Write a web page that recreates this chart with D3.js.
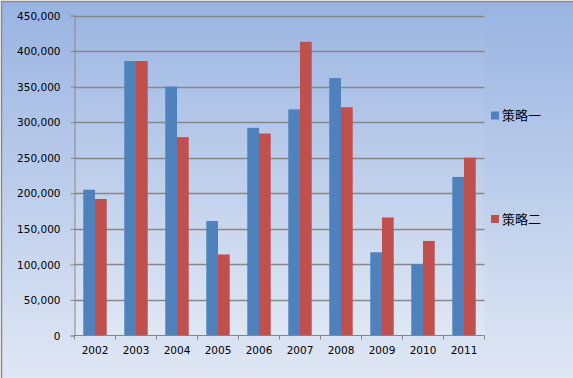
<!DOCTYPE html>
<html>
<head>
<meta charset="utf-8">
<script src="https://d3js.org/d3.v7.min.js"></script>
<style>
  body { margin: 0; background: #fff; }
  .axisText { font: 10.5px "DejaVu Sans", sans-serif; fill: #000; }
  .legendText { font: 13px "Noto Sans CJK SC", sans-serif; fill: #000; }
</style>
</head>
<body>
<svg id="chart"></svg>
<script>
  var years = ["2002","2003","2004","2005","2006","2007","2008","2009","2010","2011"];
  var seriesNames = ["策略一", "策略二"];
  var strategyOne = [205000, 386000, 350000, 161000, 292000, 318000, 362000, 117000, 100000, 223000];
  var strategyTwo = [192000, 386000, 279000, 114000, 284000, 413000, 321000, 166000, 133000, 250000];
  var yTicks = [0, 50000, 100000, 150000, 200000, 250000, 300000, 350000, 400000, 450000];
  var colors = ["#4f81bd", "#c0504d"];

  var w = 573, h = 378;
  var plot = {left: 74.5, right: 484.5, top: 15.5, bottom: 335.5};

  var svg = d3.select("#chart").attr("width", w).attr("height", h);

  // background gradients
  var defs = svg.append("defs");
  var g1 = defs.append("linearGradient").attr("id", "bgGrad")
      .attr("x1", 0).attr("y1", 0).attr("x2", 0).attr("y2", 1);
  g1.append("stop").attr("offset", "0%").attr("stop-color", "#99b4e2");
  g1.append("stop").attr("offset", "100%").attr("stop-color", "#e1e8f5");
  var g2 = defs.append("linearGradient").attr("id", "plotGrad")
      .attr("x1", 0).attr("y1", 0).attr("x2", 0).attr("y2", 1);
  g2.append("stop").attr("offset", "0%").attr("stop-color", "#9db7e3");
  g2.append("stop").attr("offset", "100%").attr("stop-color", "#e0e7f4");

  svg.append("rect").attr("x", 1.5).attr("y", 1.5).attr("width", w + 5).attr("height", h + 5)
      .attr("fill", "url(#bgGrad)").attr("stroke", "#8a8a8a").attr("stroke-width", 1.5);
  svg.append("rect").attr("x", plot.left).attr("y", plot.top)
      .attr("width", plot.right - plot.left).attr("height", plot.bottom - plot.top)
      .attr("fill", "url(#plotGrad)");

  var x = d3.scaleBand().domain(years).range([plot.left, plot.right]).paddingInner(0).paddingOuter(0);
  var y = d3.scaleLinear().domain([0, 450000]).range([plot.bottom, plot.top]);
  var barW = x.bandwidth() / 3.5;

  // gridlines
  svg.append("g").selectAll("line")
      .data(yTicks.filter(function(d){ return d > 0; }))
      .enter().append("line")
      .attr("x1", plot.left).attr("x2", plot.right)
      .attr("y1", function(d){ return Math.round(y(d)) + 0.5; })
      .attr("y2", function(d){ return Math.round(y(d)) + 0.5; })
      .attr("stroke", "#878787").attr("stroke-width", 1.5);

  // bars
  var seriesData = [strategyOne, strategyTwo];
  seriesData.forEach(function(vals, si){
    svg.append("g").selectAll("rect")
      .data(vals)
      .enter().append("rect")
      .attr("x", function(d, i){ return x(years[i]) + x.bandwidth() / 2 - barW + si * barW; })
      .attr("y", function(d){ return y(d); })
      .attr("width", barW)
      .attr("height", function(d){ return plot.bottom - y(d); })
      .attr("fill", colors[si]);
  });

  // y axis
  var yAxis = d3.axisLeft(y).tickValues(yTicks).tickSize(4).tickPadding(10)
      .tickFormat(d3.format(","));
  var yg = svg.append("g").attr("transform", "translate(" + plot.left + ",0)").call(yAxis);
  yg.selectAll("text").attr("class", "axisText").attr("dy", "0.35em");
  yg.selectAll("line,path").attr("stroke", "#868686");

  // x axis
  var xAxis = d3.axisBottom(x).tickSize(0).tickPadding(11);
  var xg = svg.append("g").attr("transform", "translate(0," + plot.bottom + ")").call(xAxis);
  xg.select("path").attr("stroke", "#868686").attr("d", "M" + plot.left + ",0H" + plot.right);
  xg.selectAll("text").attr("class", "axisText");
  xg.selectAll(".boundary")
      .data(years.concat(["end"]))
      .enter().append("line")
      .attr("x1", function(d, i){ return plot.left + i * x.bandwidth(); })
      .attr("x2", function(d, i){ return plot.left + i * x.bandwidth(); })
      .attr("y1", 0).attr("y2", 4)
      .attr("stroke", "#868686");

  // legend
  var legendY = [115.5, 219];
  var lg = svg.append("g").selectAll("g").data(seriesNames).enter().append("g")
      .attr("transform", function(d, i){ return "translate(491," + legendY[i] + ")"; });
  lg.append("rect").attr("x", 0).attr("y", -4).attr("width", 8).attr("height", 8)
      .attr("fill", function(d, i){ return colors[i]; });
  lg.append("text").attr("class", "legendText").attr("x", 11).attr("dy", "0.38em")
      .text(function(d){ return d; });
</script>
</body>
</html>
